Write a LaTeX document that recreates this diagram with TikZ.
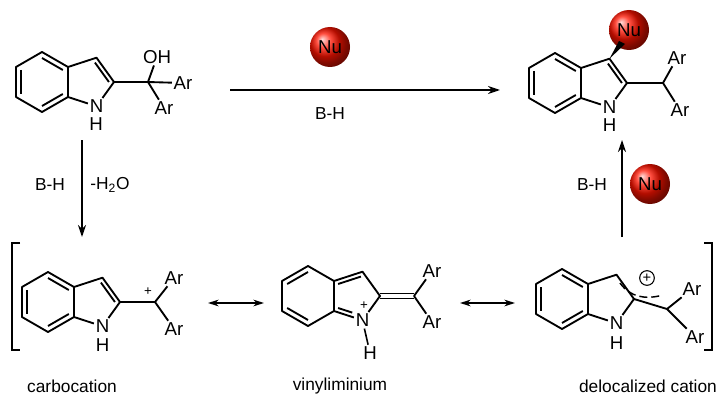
\documentclass[tikz,border=0pt]{standalone}
\usepackage{fontspec}
\setmainfont{Liberation Sans}
\usetikzlibrary{calc,arrows.meta,shadings}
\tikzset{
 bond/.style={line width=1.4pt,line join=round},
 atom/.style={inner sep=1.2pt,font=\fontsize{14}{16}\selectfont},
 lbl/.style={inner sep=1pt,font=\fontsize{13}{15}\selectfont},
 nuball/.style={circle,minimum size=30pt,inner sep=0pt,shading=ball,ball color=red!85!orange,font=\fontsize{14}{16}\selectfont},
 rarrow/.style={line width=1.1pt,-{Stealth[length=9pt,width=6pt]}},
 rres/.style={line width=1.1pt,{Stealth[length=8pt,width=5pt]}-{Stealth[length=8pt,width=5pt]}}}
\newcommand\dbl[3]{\draw[bond] ($(#1)!0.2!(#3)$) -- ($(#2)!0.2!(#3)$);}
\newcommand\indole[3]{%
 \coordinate (#1-c) at (#2,#3);
 \coordinate (#1-1) at (#2,#3-30);
 \coordinate (#1-2) at (#2+26,#3-15);
 \coordinate (#1-3) at (#2+26,#3+15);
 \coordinate (#1-4) at (#2,#3+30);
 \coordinate (#1-5) at (#2-26,#3+15);
 \coordinate (#1-6) at (#2-26,#3-15);
 \coordinate (#1-C3) at (#2+54.5,#3-24.3);
 \coordinate (#1-C2) at (#2+72,#3);
 \coordinate (#1-p) at (#2+46.6,#3);
 \node[atom] (#1-N) at (#2+54.5,#3+24.3) {N};
 \draw[bond] (#1-1)--(#1-2)--(#1-3)--(#1-4)--(#1-5)--(#1-6)--cycle;
 \draw[bond] (#1-2)--(#1-C3)--(#1-C2)--(#1-N)--(#1-3);
}
\begin{document}
\begin{tikzpicture}[x=0.75pt,y=-0.75pt]
\useasboundingbox (0,0) rectangle (725,410);
% starting material
\indole{a}{42}{82}
\dbl{a-6}{a-5}{a-c}\dbl{a-1}{a-2}{a-c}\dbl{a-4}{a-3}{a-c}\dbl{a-C3}{a-C2}{a-p}
\node[atom] (a-H) at (96,124) {H};
\coordinate (a-q) at (148,82);
\node[atom] (a-OH) at (157,57) {OH};
\node[atom] (a-Ar1) at (183,83) {Ar};
\node[atom] (a-Ar2) at (164,108) {Ar};
\draw[bond] (a-C2)--(a-q)--(a-OH);
\draw[bond] (a-q)--(a-Ar1);
\draw[bond] (a-q)--(a-Ar2);
% product
\indole{b}{555}{83}
\dbl{b-6}{b-5}{b-c}\dbl{b-1}{b-2}{b-c}\dbl{b-4}{b-3}{b-c}\dbl{b-C3}{b-C2}{b-p}
\node[atom] (b-H) at (609.5,125) {H};
\node[nuball] (b-Nu) at (629,30) {Nu};
\fill (b-C3) -- (619,41) -- (625,44) -- cycle;
\coordinate (b-q) at (663,83);
\node[atom] (b-Ar1) at (677,58) {Ar};
\node[atom] (b-Ar2) at (680,110) {Ar};
\draw[bond] (b-C2)--(b-q)--(b-Ar1);
\draw[bond] (b-q)--(b-Ar2);
% carbocation
\indole{c}{48}{302}
\dbl{c-6}{c-5}{c-c}\dbl{c-1}{c-2}{c-c}\dbl{c-4}{c-3}{c-c}\dbl{c-C3}{c-C2}{c-p}
\node[atom] (c-H) at (102.5,345) {H};
\coordinate (c-q) at (155,302);
\node[lbl,font=\fontsize{10}{12}\selectfont] (c-plus) at (148,292) {+};
\node[atom] (c-Ar1) at (174,278) {Ar};
\node[atom] (c-Ar2) at (174,329) {Ar};
\draw[bond] (c-C2)--(c-q)--(c-Ar1);
\draw[bond] (c-q)--(c-Ar2);
% vinyliminium
\indole{d}{308}{296}
\dbl{d-6}{d-1}{d-c}\dbl{d-5}{d-4}{d-c}\dbl{d-2}{d-C3}{d-p}
\draw[bond] ($(d-3)!0.2!(d-p)$) -- ($ ($(d-3)!0.2!(d-p)$)!0.62!($(d-N)!0.2!(d-p)$) $);
\node[lbl,font=\fontsize{10}{12}\selectfont] (d-plus) at (364,306) {+};
\node[atom] (d-H) at (370,353) {H};
\draw[line width=1.2pt] (d-N)--(d-H);
\coordinate (d-q) at (414,296);
\draw[bond] ($(d-C2)+(0,-2.5)$) -- ($(d-q)+(0,-2.5)$);
\draw[bond] ($(d-C2)+(0,2.5)$) -- ($(d-q)+(0,2.5)$);
\node[atom] (d-Ar1) at (432,271) {Ar};
\node[atom] (d-Ar2) at (432,322) {Ar};
\draw[bond] (d-q)--(d-Ar1);
\draw[bond] (d-q)--(d-Ar2);
% delocalized cation
\indole{e}{562}{299}
\dbl{e-6}{e-5}{e-c}\dbl{e-1}{e-2}{e-c}\dbl{e-4}{e-3}{e-c}
\node[atom] (e-H) at (616.5,343) {H};
\draw[line width=1.1pt,dash pattern=on 6pt off 3pt] (620,283) .. controls (630,297) and (645,300) .. (663,295);
\node[circle,draw,line width=0.8pt,inner sep=0pt,minimum size=11pt,font=\fontsize{11}{12}\selectfont] (e-plus) at (647,278) {+};
\coordinate (e-q) at (667,309);
\node[atom] (e-Ar1) at (692,289) {Ar};
\node[atom] (e-Ar2) at (695,337) {Ar};
\draw[bond] (e-C2)--(e-q)--(e-Ar1);
\draw[bond] (e-q)--(e-Ar2);
% brackets
\draw[line width=1.2pt] (20,243)--(12,243)--(12,350)--(20,350);
\draw[line width=1.2pt] (704,243)--(712,243)--(712,350)--(704,350);
% arrows
\coordinate (t1) at (230,90); \coordinate (t2) at (500,90);
\draw[rarrow] (t1)--(t2);
\node[nuball] (nu1) at (330,47) {Nu};
\node[lbl] (bh1) at (330,114) {B-H};
\coordinate (l1) at (82,140); \coordinate (l2) at (82,237);
\draw[rarrow] (l1)--(l2);
\node[lbl] (bh2) at (50,185) {B-H};
\node[lbl] (h2o) at (110,185) {-H\textsubscript{2}O};
\coordinate (r1) at (622,237); \coordinate (r2) at (622,140);
\draw[rarrow] (r1)--(r2);
\node[lbl] (bh3) at (592,185) {B-H};
\node[nuball] (nu2) at (650,184) {Nu};
\coordinate (m1) at (208,303); \coordinate (m2) at (264,303);
\draw[rres] (m1)--(m2);
\coordinate (m3) at (460,303); \coordinate (m4) at (515,303);
\draw[rres] (m3)--(m4);
% labels
\node[lbl] (L1) at (72,386) {carbocation};
\node[lbl] (L2) at (340,386) {vinyliminium};
\node[lbl] (L3) at (648,386) {delocalized cation};
\end{tikzpicture}
\end{document}
